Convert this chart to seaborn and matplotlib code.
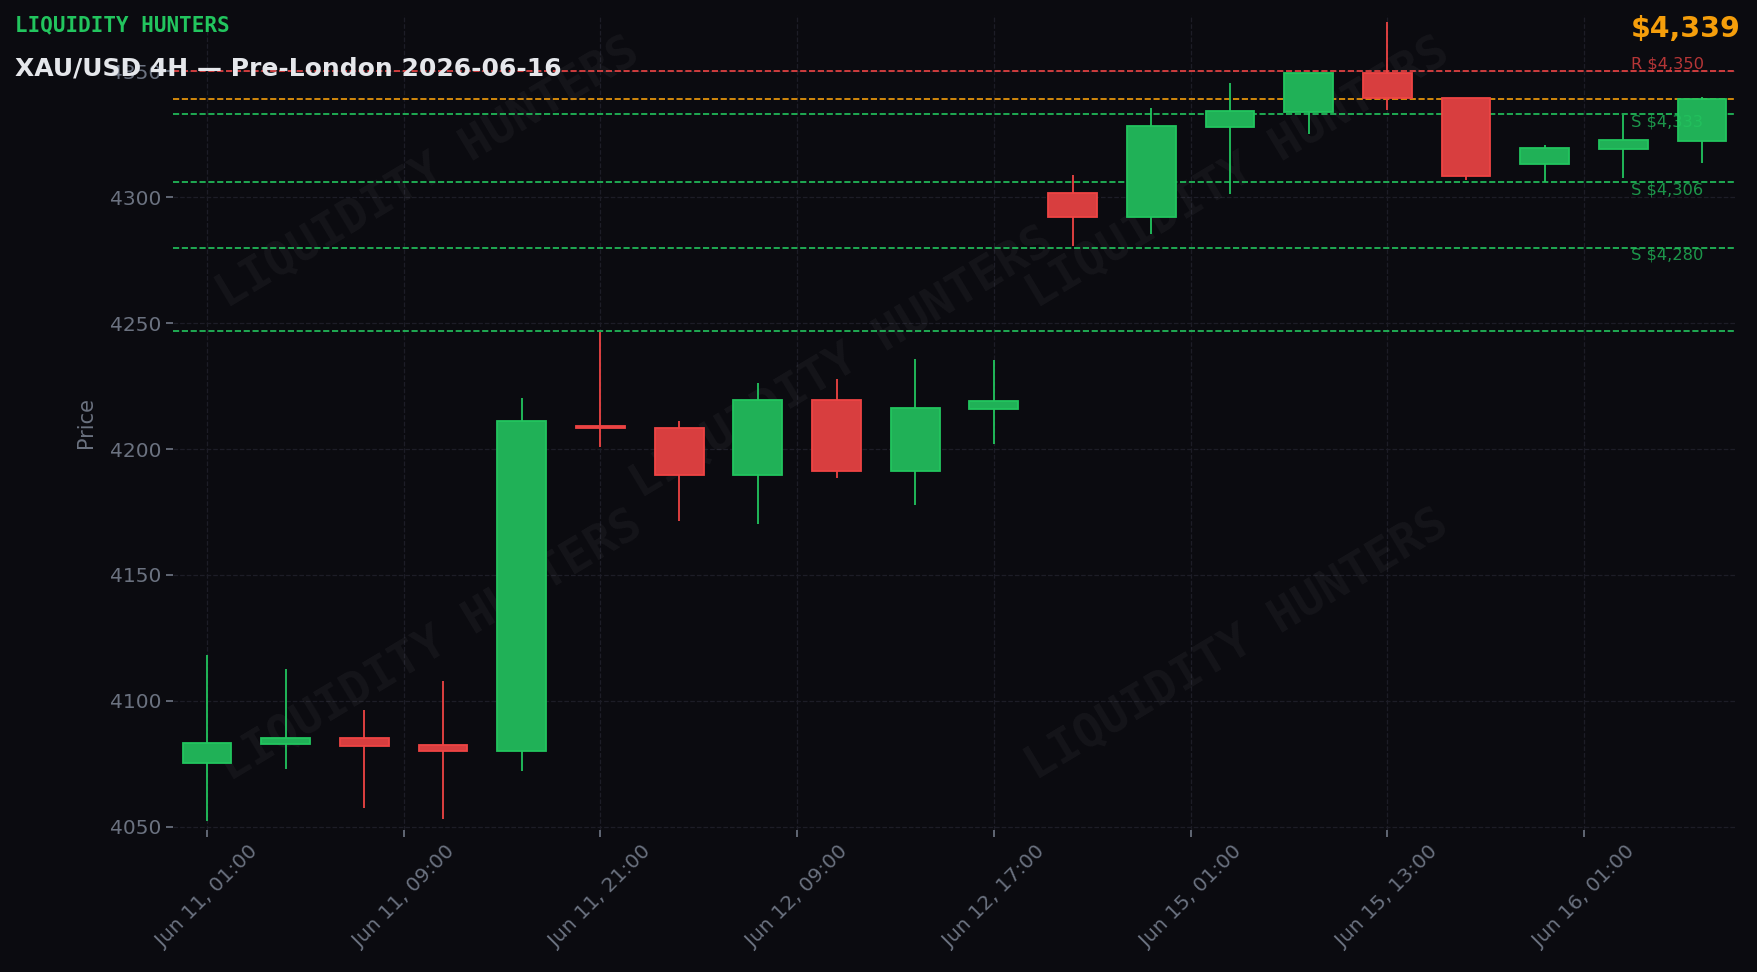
import numpy as np
import pandas as pd
import matplotlib
matplotlib.use("Agg")
import matplotlib.pyplot as plt
import seaborn as sns

# 4H candles, XAU/USD
opens  = [4075.5, 4082.7, 4085.1, 4082.3, 4080.3, 4209.0, 4208.5, 4189.8, 4219.6, 4191.3,
          4215.9, 4301.7, 4292.2, 4327.9, 4333.9, 4349.3, 4339.3, 4313.0, 4319.2, 4322.4]
highs  = [4118.1, 4112.6, 4096.3, 4107.8, 4220.1, 4246.3, 4211.0, 4226.1, 4228.0, 4235.6,
          4235.2, 4309.0, 4335.6, 4345.5, 4349.5, 4369.7, 4339.5, 4320.8, 4332.8, 4339.8]
lows   = [4052.4, 4073.0, 4057.5, 4053.2, 4072.2, 4200.8, 4171.4, 4170.2, 4188.5, 4177.8,
          4201.9, 4280.6, 4285.3, 4301.2, 4325.0, 4334.7, 4306.9, 4306.0, 4307.7, 4313.5]
closes = [4083.1, 4085.1, 4081.9, 4080.3, 4211.2, 4208.2, 4189.8, 4219.6, 4191.4, 4216.4,
          4218.9, 4292.2, 4328.3, 4334.1, 4349.3, 4339.2, 4308.6, 4319.6, 4322.8, 4339.0]

tick_labels = ['Jun 11, 01:00', 'Jun 11, 09:00', 'Jun 11, 21:00', 'Jun 12, 09:00',
               'Jun 12, 17:00', 'Jun 15, 01:00', 'Jun 15, 13:00', 'Jun 16, 01:00']

resistance = [4350]
supports = [4333, 4306, 4280, 4247]
current_price = 4339

BG = '#0b0b10'
GREEN = '#22c55e'
RED = '#ef4444'
GREEN_FILL = '#20b157'
RED_FILL = '#d83e3f'
ORANGE = '#f59e0b'
MUTED = '#6b7280'

sns.set_theme(style="dark", rc={
    'figure.facecolor': BG, 'axes.facecolor': BG, 'savefig.facecolor': BG,
    'axes.grid': True, 'grid.color': '#1d1d27', 'grid.linestyle': '--', 'grid.linewidth': 0.9,
    'xtick.color': MUTED, 'ytick.color': MUTED, 'axes.labelcolor': MUTED,
    'xtick.bottom': True, 'ytick.left': True,
})
plt.rcParams['font.family'] = ['DejaVu Sans']

df = pd.DataFrame({'open': opens, 'high': highs, 'low': lows, 'close': closes})
df['idx'] = np.arange(len(df))
df['up'] = df['close'] >= df['open']

fig, ax = plt.subplots(figsize=(17.58, 9.72), dpi=100)
fig.subplots_adjust(left=0.0985, right=0.987, top=0.985, bottom=0.146)

# wicks + bodies
for up, col, fill in [(True, GREEN, GREEN_FILL), (False, RED, RED_FILL)]:
    d = df[df['up'] == up]
    ax.vlines(d['idx'], d['low'], d['high'], color=col, linewidth=1.3, zorder=3)
    ax.bar(d['idx'], d['close'] - d['open'], bottom=d['open'], width=0.62,
           color=fill, edgecolor=col, linewidth=1.3, zorder=4)

# levels
for r in resistance:
    ax.axhline(r, color=RED, linestyle='--', linewidth=1.2, zorder=2)
    ax.text(18.1, r, f'R ${r:,}', color=RED, alpha=0.75, fontsize=11.7, va='bottom', ha='left', zorder=5)
ax.axhline(current_price, color=ORANGE, linestyle='--', linewidth=1.2, zorder=2)
for i, s in enumerate(supports):
    ax.axhline(s, color=GREEN, linestyle='--', linewidth=1.2, zorder=2)
    if i < 3:
        ax.text(18.1, s, f'S ${s:,}', color=GREEN, alpha=0.75, fontsize=11.7, va='top', ha='left', zorder=5)

# watermark
for xf, yf in [(0.163, 0.805), (0.682, 0.805), (0.428, 0.572), (0.165, 0.226), (0.681, 0.227)]:
    ax.text(xf, yf, 'LIQUIDITY HUNTERS', transform=ax.transAxes, rotation=31,
            rotation_mode='anchor', ha='center', va='center', fontsize=34,
            family='DejaVu Sans Mono', fontweight='bold', color='white', alpha=0.045, zorder=1)

ax.set_xlim(-0.43, 19.42)
ax.set_ylim(4048.7, 4372.5)
ax.set_xticks(np.arange(0, 20, 2.5))
ax.set_xticklabels(tick_labels, rotation=45, fontsize=14.5)
ax.set_yticks(np.arange(4050, 4351, 50))
ax.tick_params(axis='y', labelsize=14.5, length=5, color=MUTED)
ax.tick_params(axis='x', length=5, color=MUTED)
ax.set_ylabel('Price', fontsize=15, labelpad=10)
for sp in ax.spines.values():
    sp.set_visible(False)

fig.text(0.0085, 0.984, 'LIQUIDITY HUNTERS', color=GREEN, fontsize=15,
         family='DejaVu Sans Mono', fontweight='bold', va='top', ha='left')
fig.text(0.0085, 0.942, 'XAU/USD 4H \u2014 Pre-London 2026-06-16', color='#e5e7eb',
         fontsize=18, fontweight='bold', va='top', ha='left')
fig.text(0.990, 0.985, f'${current_price:,}', color=ORANGE, fontsize=20.5,
         fontweight='bold', va='top', ha='right')

fig.savefig('out.png', dpi=100)
